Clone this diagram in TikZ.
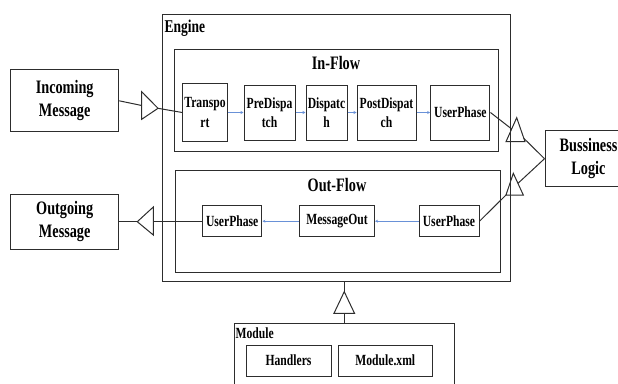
\documentclass[tikz,border=0pt]{standalone}
\usepackage{fontspec}
\setmainfont{Liberation Serif}[FakeStretch=0.75]
\usetikzlibrary{arrows.meta}

\definecolor{linegray}{RGB}{45,45,45}
\definecolor{flowblue}{RGB}{105,145,215}
\newcommand{\bigtxt}{\fontsize{19}{23}\selectfont\bfseries}
\newcommand{\smalltxt}{\fontsize{15.5}{19.4}\selectfont\bfseries}

\tikzset{
	box/.style={draw=linegray, line width=1pt, rectangle, inner sep=0pt, align=center, font=\smalltxt},
	bigbox/.style={box, font=\bigtxt},
	lbl/.style={inner sep=0pt},
	link/.style={draw=linegray, line width=1pt},
	flow/.style={-{Stealth[length=3pt,width=3pt]}, flowblue, line width=0.7pt},
}

\begin{document}
\begin{tikzpicture}[x=1pt,y=-1pt]
	\useasboundingbox (0,0) rectangle (618,383);
	
	% containers
	\node[box, minimum width=348pt, minimum height=267pt] (engine) at (336,148) {};
	\node[box, minimum width=324pt, minimum height=102pt] (inflow) at (336.2,100.9) {};
	\node[box, minimum width=325pt, minimum height=102pt] (outflow) at (337.5,221.5) {};
	\node[box, minimum width=219.5pt, minimum height=67pt] (module) at (344.25,356.5) {};
	\node[lbl, anchor=base west, font=\fontsize{18}{20}\selectfont\bfseries] (enginelbl) at (164.5,32.3) {Engine};
	\node[lbl, anchor=base, font=\bigtxt] (inflowlbl) at (336,69) {In-Flow};
	\node[lbl, anchor=base, font=\bigtxt] (outflowlbl) at (337,191) {Out-Flow};
	\node[lbl, anchor=base west, font=\smalltxt] (modulelbl) at (235.5,338) {Module};
	
	% outside boxes
	\node[bigbox, minimum width=108pt, minimum height=61.7pt] (incoming) at (64.7,100.8) {Incoming\\Message};
	\node[bigbox, minimum width=108pt, minimum height=55.3pt] (outgoing) at (64.7,221.7) {Outgoing\\Message};
	\node[bigbox, minimum width=87pt, minimum height=56.5pt, text width=60pt] (logic) at (588.5,158.7) {Bussiness\\Logic};
	
	% in-flow phases
	\node[box, minimum width=44.6pt, minimum height=58pt] (transport) at (205,112.5) {Transpo\\rt};
	\node[box, minimum width=51pt, minimum height=55pt] (predispatch) at (269.5,112.5) {PreDispa\\tch};
	\node[box, minimum width=41pt, minimum height=55pt] (dispatch) at (326.5,112.5) {Dispatc\\h};
	\node[box, minimum width=59pt, minimum height=55pt] (postdispatch) at (386.5,112.5) {PostDispat\\ch};
	\node[box, minimum width=59.3pt, minimum height=55pt] (userin) at (460.3,112.5) {UserPhase};
	
	% out-flow phases
	\node[box, minimum width=59.5pt, minimum height=31pt] (userL) at (232.2,221.2) {UserPhase};
	\node[box, minimum width=75pt, minimum height=31pt] (messageout) at (337,221.2) {MessageOut};
	\node[box, minimum width=60pt, minimum height=31pt] (userR) at (449,221.2) {UserPhase};
	
	% module parts
	\node[box, minimum width=85pt, minimum height=31pt] (handlers) at (288.5,360.5) {Handlers};
	\node[box, minimum width=94pt, minimum height=31pt] (modulexml) at (385.3,360.5) {Module.xml};
	
	\draw[flow] (transport.east) -- (predispatch.west);
	\draw[flow] (predispatch.east) -- (dispatch.west);
	\draw[flow] (dispatch.east) -- (postdispatch.west);
	\draw[flow] (postdispatch.east) -- (userin.west);
	\draw[flow] (userR.west) -- (messageout.east);
	\draw[flow] (messageout.west) -- (userL.east);
	
	% triangles
	\coordinate (intip) at (158,108.3);
	\coordinate (inbase) at (141.7,105.5);
	\draw[link] (141.7,91.7) -- (intip) -- (141.7,119.3) -- cycle;
	\draw[link] (incoming.east) -- (inbase);
	\draw[link] (intip) -- (transport.west);
	
	\coordinate (outtip) at (137.3,221.7);
	\coordinate (outbase) at (153.3,221.2);
	\draw[link] (153.3,207) -- (outtip) -- (153.3,235) -- cycle;
	\draw[link] (outgoing.east) -- (outtip);
	\draw[link] (outbase) -- (userL.west);
	
	\coordinate (upleft) at (511.7,129);
	\coordinate (upright) at (523.8,138.3);
	\draw[link] (506,141.7) -- (516.7,117.7) -- (525,141.7) -- cycle;
	\draw[link] (userin.east) -- (upleft);
	\draw[link] (logic.west) -- (upright);
	
	\coordinate (lowright) at (518,183.3);
	\coordinate (lowcorner) at (506,195);
	\draw[link] (lowcorner) -- (513.3,173.3) -- (523.3,195) -- cycle;
	\draw[link] (logic.west) -- (lowright);
	\draw[link] (lowcorner) -- (userR.east);
	
	\coordinate (modtip) at (344.25,291.7);
	\coordinate (modbase) at (344.25,313.3);
	\draw[link] (334,313.3) -- (modtip) -- (354.5,313.3) -- cycle;
	\draw[link] (engine.south -| modtip) -- (modtip);
	\draw[link] (modbase) -- (module.north);
\end{tikzpicture}
\end{document}
